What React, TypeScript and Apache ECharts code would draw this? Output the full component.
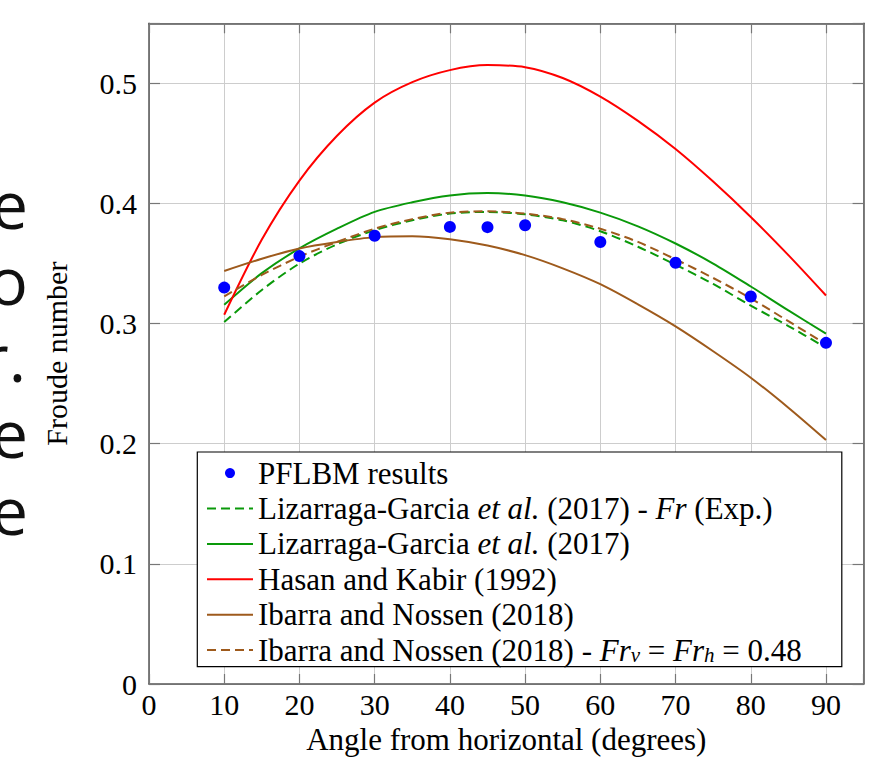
import React, { useEffect, useRef } from 'react';
import * as echarts from 'echarts';

const SERIF = '"Liberation Serif", "Times New Roman", serif';

// ---- data ----
const lineAngles = [10, 15, 20, 25, 30, 35, 40, 45, 50, 55, 60, 65, 70, 75, 80, 85, 90];

const lizarragaExp = [0.3013, 0.328, 0.350, 0.366, 0.3778, 0.386, 0.3916, 0.393, 0.391, 0.386, 0.3769, 0.364, 0.349, 0.333, 0.315, 0.298, 0.280];
const lizarraga = [0.3157, 0.342, 0.3626, 0.379, 0.393, 0.401, 0.4067, 0.4087, 0.4067, 0.401, 0.3924, 0.381, 0.3667, 0.350, 0.3309, 0.311, 0.2917];
const hasanKabir = [0.3074, 0.370, 0.4191, 0.4564, 0.484, 0.501, 0.511, 0.5152, 0.5135, 0.5045, 0.489, 0.4688, 0.4454, 0.4183, 0.3888, 0.357, 0.3234];
const ibarraNossen = [0.3438, 0.354, 0.3626, 0.368, 0.372, 0.3728, 0.3703, 0.365, 0.357, 0.346, 0.3328, 0.316, 0.2977, 0.277, 0.255, 0.230, 0.2031];
const ibarraNossenFixed = [0.3226, 0.3405, 0.3557, 0.368, 0.379, 0.387, 0.3924, 0.3935, 0.3916, 0.387, 0.379, 0.368, 0.3535, 0.338, 0.321, 0.302, 0.283];

const pflbmAngles = [10, 20, 30, 40, 45, 50, 60, 70, 80, 90];
const pflbmValues = [0.330, 0.3562, 0.3731, 0.3805, 0.3803, 0.3819, 0.368, 0.3507, 0.3226, 0.284];

const seriesNames = [
  'PFLBM results',
  'Lizarraga-Garcia et al. (2017) - Fr (Exp.)',
  'Lizarraga-Garcia et al. (2017)',
  'Hasan and Kabir (1992)',
  'Ibarra and Nossen (2018)',
  'Ibarra and Nossen (2018) - Frv = Frh = 0.48',
];
const legendLabels: Record<string, string> = {
  [seriesNames[0]]: 'PFLBM results',
  [seriesNames[1]]: 'Lizarraga-Garcia {i|et al.} (2017) - {i|Fr} (Exp.)',
  [seriesNames[2]]: 'Lizarraga-Garcia {i|et al.} (2017)',
  [seriesNames[3]]: 'Hasan and Kabir (1992)',
  [seriesNames[4]]: 'Ibarra and Nossen (2018)',
  [seriesNames[5]]: 'Ibarra and Nossen (2018) - {i|Fr}{s|v} = {i|Fr}{s|h} = 0.48',
};

const xAxisTitle = 'Angle from horizontal (degrees)';
const yAxisTitle = 'Froude number';

// partial large glyphs cut off at the left edge of the picture
const edgeGlyphs = ['e', 'o', 'r.', 'e', 'e'];

const GREEN = '#0a990a';
const RED = '#ff0000';
const BROWN = '#9e5a1c';
const BLUE = '#0000ff';
const FS = 31;

function lineSeries(name: string, values: number[], color: string, dashed: boolean) {
  return {
    name,
    type: 'line',
    data: lineAngles.map((a, i) => [a, values[i]]),
    showSymbol: false,
    symbol: 'none',
    smooth: 0.3,
    lineStyle: { color, width: 2, type: dashed ? [9, 5] : 'solid' },
    itemStyle: { color },
    z: 2,
  };
}

export default function App() {
  const ref = useRef<HTMLDivElement>(null);

  useEffect(() => {
    if (!ref.current) return;
    const chart = echarts.init(ref.current, undefined, { renderer: 'svg' });

    const axisLine = { show: true, onZero: false, lineStyle: { color: '#555', width: 1.5 } };
    const tickStyle = { show: true, inside: true, length: 10, lineStyle: { color: '#777', width: 1.2 } };
    const labelFont = { fontFamily: SERIF, fontSize: 30, color: '#000' };
    const xBase = { type: 'value', min: 0, max: 95, interval: 10 };
    const yBase = { type: 'value', min: 0, max: 0.55, interval: 0.1 };

    const italic = { fontFamily: SERIF, fontSize: FS, fontStyle: 'italic', color: '#000', lineHeight: 30 };

    const hiddenSymbol = { color: 'rgba(0,0,0,0)', borderColor: 'rgba(0,0,0,0)', borderWidth: 0, opacity: 0 };

    const option: any = {
      animation: false,
      backgroundColor: '#fff',
      grid: { left: 149, right: 27.4, top: 23.3, bottom: 73.3, containLabel: false },
      xAxis: [
        {
          ...xBase,
          position: 'bottom',
          axisLine,
          axisTick: tickStyle,
          axisLabel: {
            ...labelFont,
            margin: 5,
            formatter: (v: number) => (Math.abs(v % 10) < 1e-6 ? String(Math.round(v)) : ''),
          },
          splitLine: { show: true, lineStyle: { color: '#cdcdcd', width: 1 } },
          name: xAxisTitle,
          nameLocation: 'middle',
          nameGap: 40,
          nameTextStyle: { fontFamily: SERIF, fontSize: FS, color: '#000' },
        },
        {
          ...xBase,
          position: 'top',
          axisLine,
          axisTick: tickStyle,
          axisLabel: { show: false },
          splitLine: { show: false },
        },
      ],
      yAxis: [
        {
          ...yBase,
          position: 'left',
          axisLine,
          axisTick: { ...tickStyle, length: 11 },
          axisLabel: {
            ...labelFont,
            margin: 12,
            formatter: (v: number) => {
              const r = Math.round(v * 10);
              if (Math.abs(v * 10 - r) > 1e-6) return '';
              return r === 0 ? '0' : (r / 10).toFixed(1);
            },
          },
          splitLine: { show: true, lineStyle: { color: '#cdcdcd', width: 1 } },
          name: yAxisTitle,
          nameLocation: 'middle',
          nameGap: 78,
          nameTextStyle: { fontFamily: SERIF, fontSize: 30, color: '#000' },
        },
        {
          ...yBase,
          position: 'right',
          axisLine,
          axisTick: { ...tickStyle, length: 11 },
          axisLabel: { show: false },
          splitLine: { show: false },
        },
      ],
      legend: {
        orient: 'vertical',
        left: 206,
        top: 457.6,
        padding: 0,
        itemGap: 4.4,
        itemWidth: 46,
        itemHeight: 10,
        selectedMode: false,
        z: 6,
        data: seriesNames.map((n, i) => (i === 0 ? { name: n } : { name: n, itemStyle: hiddenSymbol })),
        formatter: (name: string) => legendLabels[name],
        textStyle: {
          fontFamily: SERIF,
          fontSize: FS,
          color: '#000',
          lineHeight: 30,
          rich: {
            i: italic,
            s: { ...italic, fontSize: 21, lineHeight: 18, verticalAlign: 'bottom' },
          },
        },
      },
      graphic: [
        {
          type: 'rect',
          z: 4,
          shape: { x: 197.3, y: 452, width: 644.5, height: 214.7 },
          style: { fill: '#fff', stroke: '#000', lineWidth: 1.2 },
          silent: true,
        },
        ...edgeGlyphs.map((g, i) => ({
          type: 'text',
          z: 10,
          x: g === 'r.' ? 26 : 28,
          y: 202.5 + i * 76.5,
          silent: true,
          style: {
            text: g,
            font: '66px "Open Sans"',
            lineHeight: 56,
            fill: '#111',
            align: 'right',
            verticalAlign: 'middle',
            textAlign: 'right',
            textVerticalAlign: 'middle',
          },
        })),
      ],
      series: [
        {
          name: seriesNames[0],
          type: 'scatter',
          data: pflbmAngles.map((a, i) => [a, pflbmValues[i]]),
          symbol: 'circle',
          symbolSize: 12,
          itemStyle: { color: BLUE, opacity: 1 },
          z: 8,
        },
        lineSeries(seriesNames[1], lizarragaExp, GREEN, true),
        lineSeries(seriesNames[2], lizarraga, GREEN, false),
        lineSeries(seriesNames[3], hasanKabir, RED, false),
        lineSeries(seriesNames[4], ibarraNossen, BROWN, false),
        lineSeries(seriesNames[5], ibarraNossenFixed, BROWN, true),
      ],
    };

    chart.setOption(option);
    return () => chart.dispose();
  }, []);

  return (
    <div
      ref={ref}
      style={{ position: 'absolute', left: 0, top: 0, width: 891, height: 760 }}
    />
  );
}
